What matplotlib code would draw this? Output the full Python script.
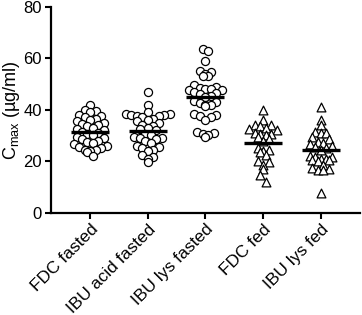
import numpy as np
import matplotlib
matplotlib.use("Agg")
import matplotlib.pyplot as plt

plt.rcParams['font.family'] = ['Liberation Sans', 'DejaVu Sans']

categories = ["FDC fasted", "IBU acid fasted", "IBU lys fasted", "FDC fed", "IBU lys fed"]

fdc_fasted = [42, 40, 39.5, 39, 38, 37.5, 37, 36.5, 36, 35.5, 35, 34.5, 34, 33.5, 33, 32.5,
              32, 31.5, 31, 30.5, 30, 29.5, 29, 28.5, 28, 27.5, 27, 26.5, 26, 25.5, 25,
              24.5, 24.5, 24, 23.5, 22]
ibu_acid_fasted = [47, 42, 39, 38.5, 38.5, 38, 38, 37.5, 37.5, 37, 36.5, 36, 35.5, 35, 34,
                   33.5, 33, 32.5, 32, 30.5, 30, 29.5, 29, 29, 28.5, 28, 27, 26, 25.5, 25,
                   24.5, 24, 22.5, 21.5, 21, 19.5]
ibu_lys_fasted = [63.5, 63, 59, 55, 54.5, 54, 53, 53, 49.5, 49, 48.5, 48, 48, 47.5, 47.5,
                  47, 46.5, 46, 45.5, 45, 43.5, 43, 42.5, 42, 42, 41.5, 38.5, 38, 37.5, 37,
                  36, 31.5, 31, 30.5, 30, 29.5]
fdc_fed = [40, 36, 34, 34, 33.5, 33, 32.5, 32, 31, 30.5, 30.5, 30, 29.5, 28.5, 28, 25,
           24.5, 24, 23.5, 22.5, 20, 19.5, 18.5, 17, 14.5, 12]
ibu_lys_fed = [41, 36, 34, 31.5, 31, 31, 29.5, 28.5, 27.5, 27, 26.5, 26, 25.5, 25, 24.5,
               22, 21.5, 21.5, 21, 21, 20.5, 20.5, 20, 18.5, 17.5, 17, 16.5, 16.5, 7.5]

groups = [fdc_fasted, ibu_acid_fasted, ibu_lys_fasted, fdc_fed, ibu_lys_fed]
markers = ['o', 'o', 'o', '^', '^']

yticks = [0, 20, 40, 60, 80]


def swarm_offsets(vals, bin_h=3.0, dx=0.095):
    vals = np.asarray(vals, dtype=float)
    offs = np.zeros_like(vals)
    bins = np.floor(vals / bin_h).astype(int)
    for b in np.unique(bins):
        idx = np.where(bins == b)[0]
        idx = idx[np.argsort(vals[idx])]
        n = len(idx)
        if n % 2 == 1:
            pos = [0.0]
            k = 1
            while len(pos) < n:
                pos.append(k * dx)
                if len(pos) < n:
                    pos.append(-k * dx)
                k += 1
        else:
            pos = []
            k = 0
            while len(pos) < n:
                pos.append((k + 0.5) * dx)
                pos.append(-(k + 0.5) * dx)
                k += 1
        for j, i in enumerate(idx):
            offs[i] = pos[j]
    return offs


fig = plt.figure(figsize=(3.62, 3.15), dpi=100)
ax = fig.add_axes([0.141, 0.325, 0.853, 0.653])

for i, (vals, m) in enumerate(zip(groups, markers)):
    offs = swarm_offsets(vals)
    ax.scatter(i + offs, vals, s=34 if m == 'o' else 40, marker=m, facecolors='white',
               edgecolors='black', linewidths=0.9, zorder=3)
    mean = np.mean(vals)
    ax.plot([i - 0.33, i + 0.33], [mean, mean], color='black', lw=2.4, zorder=4,
            solid_capstyle='butt')

ax.set_xlim(-0.68, 4.68)
ax.set_ylim(0, 80)
ax.set_yticks(yticks)
ax.set_xticks(range(len(categories)))
ax.set_xticklabels(categories, rotation=45, ha='right', rotation_mode='anchor')
ax.tick_params(axis='x', labelsize=12.5)
ax.tick_params(axis='y', labelsize=12)
ax.tick_params(axis='both', width=1.5, length=4, direction='out', color='black', pad=2.5)
for s in ['top', 'right']:
    ax.spines[s].set_visible(False)
for s in ['left', 'bottom']:
    ax.spines[s].set_linewidth(1.6)
ax.set_ylabel(r"C$_{\mathregular{max}}$ (µg/ml)", fontsize=13, labelpad=0)
ax.yaxis.set_label_coords(-0.093, 0.5)

fig.savefig("out.png", dpi=100)
